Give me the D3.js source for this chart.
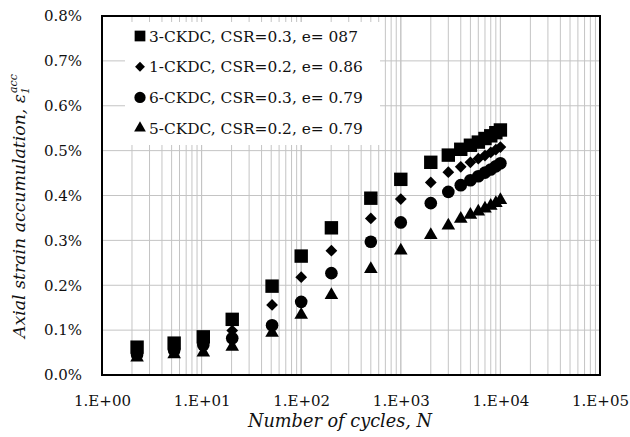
<!DOCTYPE html>
<html><head><meta charset="utf-8">
<script src="https://cdn.jsdelivr.net/npm/d3@7"></script>
<style>body{margin:0;background:#fff;} svg{display:block;}</style>
</head><body><div id="c"></div>
<script>
const cycles = [2.25, 5.3, 10.4, 20.3, 51, 100, 201, 500, 1000, 2000, 3000, 4000, 5000, 6000, 7000, 8000, 9000, 10000];
const seriesNames = ["3-CKDC, CSR=0.3, e= 087", "1-CKDC, CSR=0.2, e= 0.86", "6-CKDC, CSR=0.3, e= 0.79", "5-CKDC, CSR=0.2, e= 0.79"];
const s3CKDC = [0.062, 0.071, 0.085, 0.124, 0.198, 0.265, 0.328, 0.394, 0.436, 0.474, 0.490, 0.503, 0.512, 0.519, 0.527, 0.533, 0.540, 0.546];
const s1CKDC = [0.050, 0.060, 0.075, 0.099, 0.156, 0.218, 0.277, 0.349, 0.392, 0.429, 0.452, 0.464, 0.474, 0.482, 0.489, 0.496, 0.502, 0.508];
const s6CKDC = [0.045, 0.055, 0.067, 0.082, 0.111, 0.163, 0.227, 0.297, 0.340, 0.383, 0.408, 0.423, 0.434, 0.443, 0.451, 0.458, 0.465, 0.472];
const s5CKDC = [0.039, 0.046, 0.050, 0.063, 0.094, 0.134, 0.178, 0.236, 0.277, 0.312, 0.333, 0.348, 0.357, 0.364, 0.371, 0.377, 0.383, 0.390];
const xTicks = [1, 10, 100, 1000, 10000, 100000];
const xTickLabels = ["1.E+00", "1.E+01", "1.E+02", "1.E+03", "1.E+04", "1.E+05"];
const yTicks = [0, 0.1, 0.2, 0.3, 0.4, 0.5, 0.6, 0.7, 0.8];
const symbols = [d3.symbolSquare, d3.symbolDiamond2, d3.symbolCircle, d3.symbolTriangle];
const allSeries = [s3CKDC, s1CKDC, s6CKDC, s5CKDC];

const W = 630, H = 437;
const m = {l: 102, r: 30, t: 16, b: 62};
const font = "'DejaVu Serif', serif";
const svg = d3.select("#c").append("svg").attr("width", W).attr("height", H);
const x = d3.scaleLog().domain([1, 100000]).range([m.l, W - m.r]);
const y = d3.scaleLinear().domain([0, 0.8]).range([H - m.b, m.t]);

// grid
const minor = [];
for (let d = 1; d < 100000; d *= 10) for (let k = 1; k <= 10; k++) minor.push(d * k);
svg.append("g").selectAll("line").data(minor).join("line")
  .attr("x1", d => x(d)).attr("x2", d => x(d)).attr("y1", y(0)).attr("y2", y(0.8))
  .attr("stroke", "#c4c4c4").attr("stroke-width", 1);
svg.append("g").selectAll("line").data(yTicks).join("line")
  .attr("x1", x(1)).attr("x2", x(100000)).attr("y1", d => y(d)).attr("y2", d => y(d))
  .attr("stroke", "#c4c4c4").attr("stroke-width", 1);

// legend background
svg.append("rect").attr("x", 125).attr("y", 22).attr("width", 255).attr("height", 123).attr("fill", "#fff");

// frame
svg.append("rect").attr("x", x(1)).attr("y", y(0.8)).attr("width", x(100000) - x(1)).attr("height", y(0) - y(0.8))
  .attr("fill", "none").attr("stroke", "#000").attr("stroke-width", 2);

// axes labels
const xAxis = d3.axisBottom(x).tickValues(xTicks).tickFormat((d, i) => xTickLabels[i]).tickSize(0).tickPadding(20);
const gx = svg.append("g").attr("transform", `translate(0,${y(0)})`).call(xAxis);
gx.select(".domain").remove();
gx.selectAll("text").attr("font-family", font).attr("font-size", 15).attr("fill", "#111");
const yAxis = d3.axisLeft(y).tickValues(yTicks).tickFormat(d => d.toFixed(1) + "%").tickSize(0).tickPadding(20);
const gy = svg.append("g").attr("transform", `translate(${x(1)},0)`).call(yAxis);
gy.select(".domain").remove();
gy.selectAll("text").attr("font-family", font).attr("font-size", 15).attr("fill", "#111");

// points
const sizes = [180, 88, 125, 80];
allSeries.forEach((vals, si) => {
  svg.append("g").selectAll("path").data(vals).join("path")
    .attr("d", d3.symbol().type(symbols[si]).size(sizes[si]))
    .attr("transform", (d, i) => `translate(${x(cycles[i])},${y(d)})`)
    .attr("fill", "#000");
});

// legend
const lg = svg.append("g");
seriesNames.forEach((nm, i) => {
  const yy = 36 + i * 30.7;
  lg.append("path").attr("d", d3.symbol().type(symbols[i]).size([115, 62, 100, 60][i]))
    .attr("transform", `translate(140,${yy})`).attr("fill", "#000");
  lg.append("text").attr("x", 149).attr("y", yy).attr("dy", "0.36em").text(nm)
    .attr("font-family", font).attr("font-size", 15.4).attr("fill", "#111");
});

// axis titles
svg.append("text").attr("x", 340).attr("y", 427).attr("text-anchor", "middle")
  .attr("font-family", font).attr("font-style", "italic").attr("font-size", 17.7).attr("fill", "#111")
  .text("Number of cycles, N");
const yt = svg.append("text").attr("transform", `translate(25,206) rotate(-90)`)
  .attr("text-anchor", "middle").attr("font-family", font).attr("font-style", "italic").attr("font-size", 17.3).attr("fill", "#111");
yt.append("tspan").text("Axial strain accumulation, ε");
yt.append("tspan").attr("font-size", 11).attr("dy", 4).text("1");
yt.append("tspan").attr("font-size", 11).attr("dx", -6).attr("dy", -12).text("acc");
</script></body></html>
